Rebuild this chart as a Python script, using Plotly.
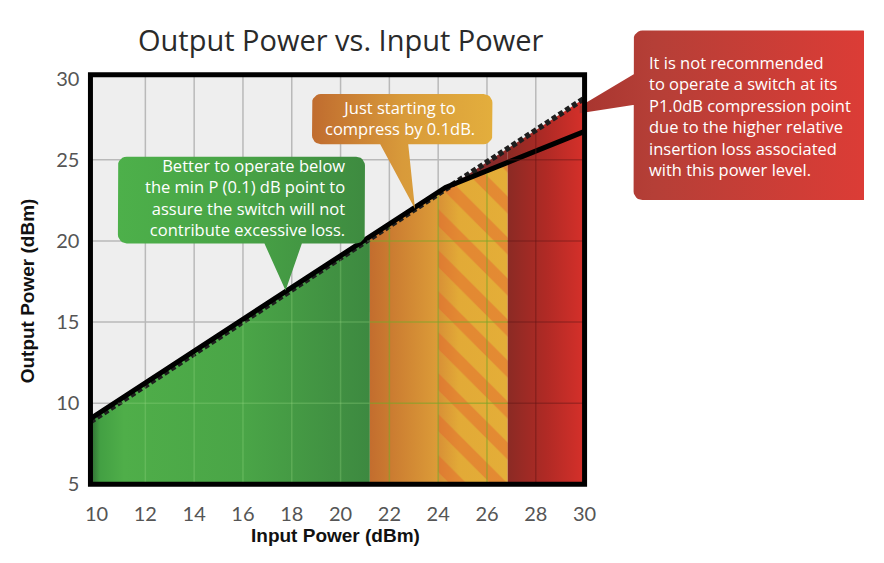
import numpy as np
import plotly.graph_objects as go

# ---------------- data ----------------
input_solid = [9.75, 24.3, 30.0]          # measured (compressed) curve
output_solid = [9.05, 23.3, 26.75]
input_ideal = [9.75, 30.0]                # ideal linear curve (dotted)
output_ideal = [8.86, 28.8]
zone_edges = [9.75, 21.2, 24.0, 26.85, 30.0]   # green | orange | striped | red
x_tick_vals = [10, 12, 14, 16, 18, 20, 22, 24, 26, 28, 30]
y_tick_vals = [5, 10, 15, 20, 25, 30]
grid_x = [12, 14, 16, 18, 20, 22, 24, 26, 28]
grid_y = [10, 15, 20, 25]
x_range = [9.75, 30.0]
y_range = [5.0, 30.24]

title_text = "Output Power vs. Input Power"
x_title = "Input Power (dBm)"
y_title = "Output Power (dBm)"
green_lines = ["Better to operate below", "the min P (0.1) dB point to",
               "assure the switch will not", "contribute excessive loss."]
orange_lines = ["Just starting to", "compress by 0.1dB."]
red_lines = ["It is not recommended", "to operate a switch at its",
             "P1.0dB compression point", "due to the higher relative",
             "insertion loss associated", "with this power level."]

# ---------------- layout geometry (page pixels) ----------------
OX, OY = 8, 8                 # page body margin
FW, FH = 884 - 2 * OX, 563 - 2 * OY
PX0, PX1, PY0, PY1 = 87, 591, 68, 493
xdom = [(PX0 - OX) / FW, (PX1 - OX) / FW]
ydom = [1 - (PY1 - OY) / FH, 1 - (PY0 - OY) / FH]


def solid(x):
    return np.interp(x, input_solid, output_solid)


def ideal(x):
    return np.interp(x, input_ideal, output_ideal)


def seg(xa, xb, xs):
    return [xa] + [k for k in xs if xa < k < xb] + [xb]


fig = go.Figure()

# ---------------- zone fills ----------------
e = zone_edges
xs = seg(e[0], e[1], input_solid)
fig.add_trace(go.Scatter(x=xs, y=solid(xs), fill="tozeroy", mode="lines", line=dict(width=0),
                         fillgradient=dict(type="horizontal", colorscale=[
                             [0, "#2f6b33"], [0.035, "#43a043"], [0.12, "#4fae49"],
                             [0.55, "#4aa547"], [1, "#3d8940"]]),
                         hoverinfo="skip", showlegend=False))
xs = seg(e[1], e[2], input_solid)
fig.add_trace(go.Scatter(x=xs, y=solid(xs), fill="tozeroy", mode="lines", line=dict(width=0),
                         fillgradient=dict(type="horizontal", colorscale=[
                             [0, "#c36d2e"], [1, "#dc9c38"]]),
                         hoverinfo="skip", showlegend=False))
xs = seg(e[2], e[3], input_solid)
fig.add_trace(go.Scatter(x=xs, y=solid(xs), fill="tozeroy", mode="lines", line=dict(width=0),
                         fillgradient=dict(type="horizontal", colorscale=[
                             [0, "#d89036"], [0.3, "#e2aa37"], [1, "#e4ae38"]]),
                         hoverinfo="skip", showlegend=False))
fig.add_trace(go.Scatter(x=xs, y=solid(xs), fill="tozeroy", mode="lines", line=dict(width=0),
                         fillcolor="rgba(0,0,0,0)",
                         fillpattern=dict(shape="\\", fgcolor="#e3682e", bgcolor="rgba(0,0,0,0)",
                                          size=29, solidity=0.42),
                         hoverinfo="skip", showlegend=False))
# wedge between ideal and compressed curve
knee = input_solid[1]
xt = seg(knee, e[3], input_ideal)
xb = seg(knee, e[3], input_solid)[::-1]
fig.add_trace(go.Scatter(x=list(xt) + list(xb), y=list(ideal(xt)) + list(solid(xb)),
                         fill="toself", mode="lines", line=dict(width=0),
                         fillgradient=dict(type="horizontal", colorscale=[
                             [0, "#762a2e"], [1, "#8e2a28"]]),
                         hoverinfo="skip", showlegend=False))
xs = seg(e[3], e[4], input_ideal)
fig.add_trace(go.Scatter(x=xs, y=ideal(xs), fill="tozeroy", mode="lines", line=dict(width=0),
                         fillgradient=dict(type="horizontal", colorscale=[
                             [0, "#8b2a24"], [0.5, "#b02a25"], [1, "#d6302a"]]),
                         hoverinfo="skip", showlegend=False))

# ---------------- curves ----------------
fig.add_trace(go.Scatter(x=input_ideal, y=output_ideal, mode="lines",
                         line=dict(color="#1e1e1e", width=5.5, dash="5px,3px"),
                         hoverinfo="skip", showlegend=False))
fig.add_trace(go.Scatter(x=input_solid, y=output_solid, mode="lines",
                         line=dict(color="#000000", width=5),
                         hoverinfo="skip", showlegend=False))

# ---------------- callouts (page-pixel overlay subplot) ----------------


def rrect(x0, y0, x1, y1, r):
    px, py = [], []
    corners = [(x1 - r, y0 + r, -90, 0), (x1 - r, y1 - r, 0, 90),
               (x0 + r, y1 - r, 90, 180), (x0 + r, y0 + r, 180, 270)]
    for cx, cy, a0, a1 in corners:
        for a in np.linspace(a0, a1, 7):
            px.append(cx + r * np.cos(np.radians(a)))
            py.append(cy + r * np.sin(np.radians(a)))
    px.append(px[0]); py.append(py[0])
    return px, py


def callout(box, tail, colors):
    bx, by = rrect(*box, 9)
    tx = [p[0] for p in tail] + [tail[0][0]]
    ty = [p[1] for p in tail] + [tail[0][1]]
    fig.add_trace(go.Scatter(x=bx + [None] + tx, y=by + [None] + ty, fill="toself", mode="lines",
                             line=dict(width=0), xaxis="x2", yaxis="y2",
                             fillgradient=dict(type="horizontal", colorscale=colors),
                             hoverinfo="skip", showlegend=False))


callout((115, 153, 367, 243), [(264, 242), (303, 242), (286, 292)],
        [[0, "#4db04a"], [0.5, "#48a346"], [1, "#3e8b40"]])
callout((313, 88, 497, 140), [(382, 139), (411, 139), (418, 207)],
        [[0, "#c06c2f"], [0.5, "#d89a3a"], [1, "#e3ae3d"]])
callout((641, 22, 884, 198), [(642, 67), (642, 99), (586, 108), (586, 101)],
        [[0, "#a8352f"], [0.25, "#b53f37"], [1, "#dd3c36"]])

txtfont = dict(family="Open Sans", size=16.5, color="white")
annos = [
    dict(x=349, y=195, xref="x2", yref="y2", text="<br>".join(green_lines), showarrow=False,
         xanchor="right", yanchor="middle", align="right", font=txtfont),
    dict(x=403, y=112.5, xref="x2", yref="y2", text="<br>".join(orange_lines), showarrow=False,
         xanchor="center", yanchor="middle", align="center", font=txtfont),
    dict(x=655, y=110.5, xref="x2", yref="y2", text="<br>".join(red_lines), showarrow=False,
         xanchor="left", yanchor="middle", align="left", font=txtfont),
    dict(x=342, y=31, xref="x2", yref="y2", text=title_text, showarrow=False,
         xanchor="center", yanchor="middle",
         font=dict(family="Open Sans", size=29, color="#2a2a2a")),
    dict(x=337, y=546, xref="x2", yref="y2", text=x_title, showarrow=False,
         xanchor="center", yanchor="middle",
         font=dict(family="Liberation Sans", size=19, color="#111", weight="bold")),
    dict(x=23, y=292, xref="x2", yref="y2", text=y_title, showarrow=False, textangle=-90,
         xanchor="center", yanchor="middle",
         font=dict(family="Liberation Sans", size=19, color="#111", weight="bold")),
]

# ---------------- shapes ----------------
shapes = [dict(type="rect", xref="paper", yref="paper", x0=xdom[0], x1=xdom[1], y0=ydom[0], y1=ydom[1],
               fillcolor="#eeeeee", line=dict(width=0), layer="below")]
for gx in grid_x:
    shapes.append(dict(type="line", xref="x", yref="y domain", x0=gx, x1=gx, y0=0, y1=1,
                       line=dict(color="#b9b9b9", width=1.5), layer="below"))
for gy in grid_y:
    shapes.append(dict(type="line", xref="x domain", yref="y", x0=0, x1=1, y0=gy, y1=gy,
                       line=dict(color="#b9b9b9", width=1.5), layer="below"))

zones = [(e[0], e[1], "solid", "rgba(150,215,130,0.30)"),
         (e[1], e[3], "solid", "rgba(125,165,40,0.60)"),
         (e[3], e[4], "ideal", "rgba(95,20,20,0.40)")]
for a, b, kind, col in zones:
    f = solid if kind == "solid" else ideal
    for gx in grid_x:
        if a <= gx < b:
            shapes.append(dict(type="line", xref="x", yref="y", x0=gx, x1=gx,
                               y0=y_range[0], y1=float(f(gx)) - 0.2,
                               line=dict(color=col, width=1.5), layer="above"))
    for gy in grid_y:
        if kind == "solid":
            xc = float(np.interp(gy, output_solid, input_solid))
        else:
            xc = float(np.interp(gy, output_ideal, input_ideal))
        start = max(a, xc + 0.15)
        if start < b:
            shapes.append(dict(type="line", xref="x", yref="y", x0=start, x1=b, y0=gy, y1=gy,
                               line=dict(color=col, width=1.5), layer="above"))

shapes.append(dict(type="rect", xref="paper", yref="paper", x0=xdom[0], x1=xdom[1],
                   y0=ydom[0], y1=ydom[1], line=dict(color="#000000", width=5),
                   fillcolor="rgba(0,0,0,0)", layer="above"))

tickfont = dict(family="Lato", size=20, color="#555555")
fig.update_layout(
    width=FW, height=FH, margin=dict(l=0, r=0, t=0, b=0),
    paper_bgcolor="white", plot_bgcolor="rgba(0,0,0,0)",
    xaxis=dict(domain=xdom, range=x_range, tickvals=x_tick_vals, ticktext=[str(v) for v in x_tick_vals],
               showgrid=False, zeroline=False, showline=False, ticks="", tickfont=tickfont,
               ticklabelstandoff=16, fixedrange=True),
    yaxis=dict(domain=ydom, range=y_range, tickvals=y_tick_vals, ticktext=[str(v) for v in y_tick_vals],
               showgrid=False, zeroline=False, showline=False, ticks="", tickfont=tickfont,
               ticklabelstandoff=10, fixedrange=True),
    xaxis2=dict(domain=[0, 1], range=[OX, OX + FW], visible=False, anchor="y2", fixedrange=True),
    yaxis2=dict(domain=[0, 1], range=[OY + FH, OY], visible=False, anchor="x2", fixedrange=True),
    shapes=shapes, annotations=annos, showlegend=False,
)

fig.write_html("out.html")
